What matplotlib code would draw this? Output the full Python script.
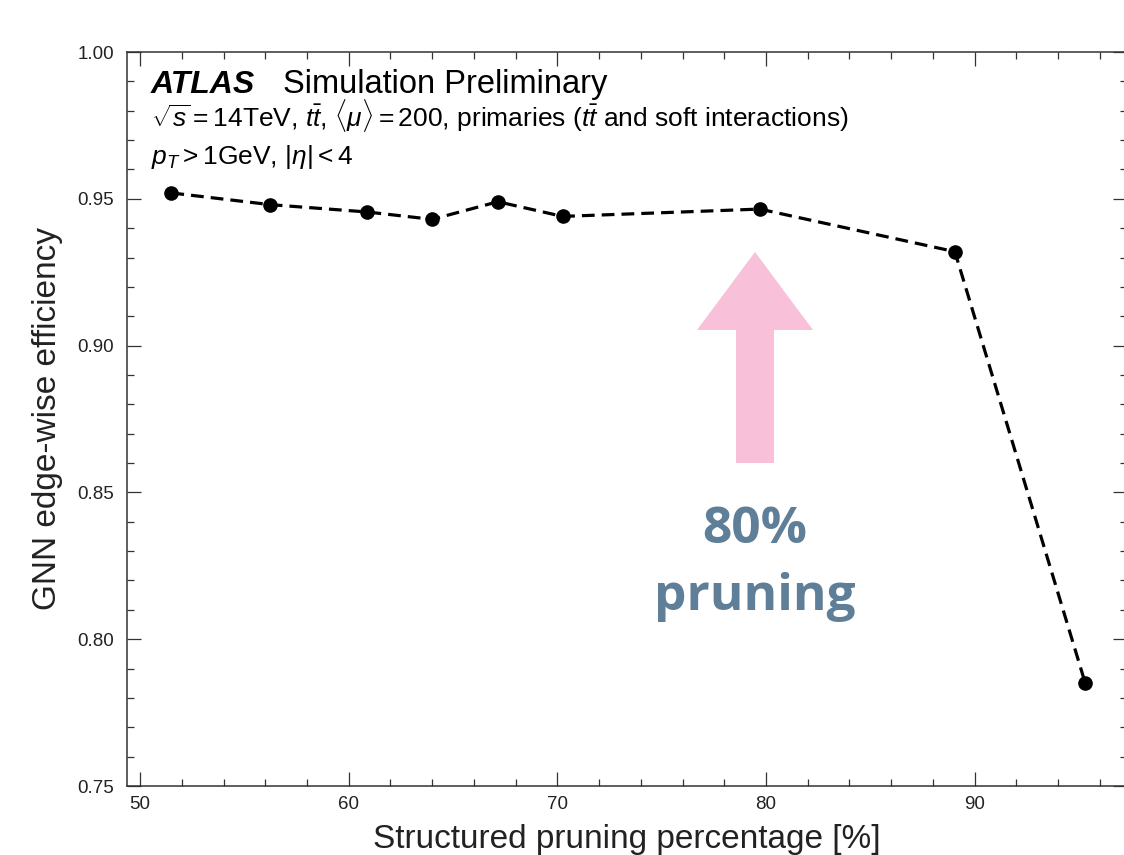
import matplotlib
matplotlib.use("Agg")
import matplotlib.pyplot as plt
from matplotlib.patches import Polygon
from matplotlib.ticker import MultipleLocator

plt.rcParams["font.family"] = ["Liberation Sans", "DejaVu Sans"]
plt.rcParams["mathtext.fontset"] = "custom"
plt.rcParams["mathtext.rm"] = "Liberation Sans"
plt.rcParams["mathtext.it"] = "Liberation Sans:italic"
plt.rcParams["mathtext.bf"] = "Liberation Sans:bold"

# pruning percentage vs GNN edge-wise efficiency
pruning = [51.5, 56.25, 60.9, 64.0, 67.15, 70.25, 79.7, 89.05, 95.3]
efficiency = [0.952, 0.948, 0.9455, 0.943, 0.949, 0.944, 0.9465, 0.932, 0.785]

xticks = [50, 60, 70, 80, 90]
yticks = [0.75, 0.80, 0.85, 0.90, 0.95, 1.00]

W, H = 1124, 855
fig = plt.figure(figsize=(W / 100, H / 100), dpi=100)
ax = fig.add_axes([126.7 / W, 1 - 786 / H, 1000.3 / W, 734 / H])

ax.plot(pruning, efficiency, "k--", lw=2.3, dashes=(4, 2.2),
        marker="o", ms=9.5, mfc="black", mec="black")

ax.set_xlim(49.36, 97.3)
ax.set_ylim(0.75, 1.00)
ax.set_xticks(xticks)
ax.set_yticks(yticks)
ax.set_yticklabels([f"{v:.2f}" for v in yticks])
ax.xaxis.set_minor_locator(MultipleLocator(2))
ax.yaxis.set_minor_locator(MultipleLocator(0.01))
ax.tick_params(which="both", direction="in", top=True, right=True,
               width=0.9, color="#333333", labelsize=13.5, labelcolor="#222222")
ax.tick_params(which="major", length=10)
ax.tick_params(which="minor", length=5)
ax.tick_params(axis="x", pad=7)
ax.tick_params(axis="y", pad=9)
for s in ax.spines.values():
    s.set_linewidth(1.1)
    s.set_color("#333333")

ax.set_xlabel("Structured pruning percentage [%]", fontsize=24, color="#222222")
ax.set_ylabel("GNN edge-wise efficiency", fontsize=24, color="#222222")
ax.xaxis.set_label_coords(0.5, -0.052)
ax.yaxis.set_label_coords(-0.064, 0.5)

# ATLAS header
ax.text(0.024, 0.9435, "ATLAS", transform=ax.transAxes, fontsize=23,
        fontweight="bold", fontstyle="italic", va="baseline")
ax.text(0.156, 0.9435, "Simulation Preliminary", transform=ax.transAxes,
        fontsize=23.5, va="baseline")
ax.text(0.024, 0.899,
        r"$\sqrt{s} = 14$TeV, $t\bar{t}$, $\langle\mu\rangle = 200$, primaries ($t\bar{t}$ and soft interactions)",
        transform=ax.transAxes, fontsize=19, va="baseline")
ax.text(0.024, 0.847, r"$p_T > 1$GeV, $|\eta| < 4$",
        transform=ax.transAxes, fontsize=19, va="baseline")

# pink block arrow (pixel geometry)
cx, tip, hb, bot = 755, 252, 330, 463
hw, sw = 58, 19
pts = [(cx, tip), (cx + hw, hb), (cx + sw, hb), (cx + sw, bot),
       (cx - sw, bot), (cx - sw, hb), (cx - hw, hb)]
pts = [(x / W, 1 - y / H) for x, y in pts]
fig.patches.append(Polygon(pts, closed=True, transform=fig.transFigure,
                           facecolor="#F9C0D9", edgecolor="none", zorder=5))

fig.text(755 / W, 1 - 530 / H, "80%", fontsize=37, fontweight="bold",
         color="#5F7E98", ha="center", va="center", family="Open Sans")
fig.text(755 / W, 1 - 597 / H, "pruning", fontsize=37, fontweight="bold",
         color="#5F7E98", ha="center", va="center", family="Open Sans")

fig.savefig("out.png", dpi=100)
